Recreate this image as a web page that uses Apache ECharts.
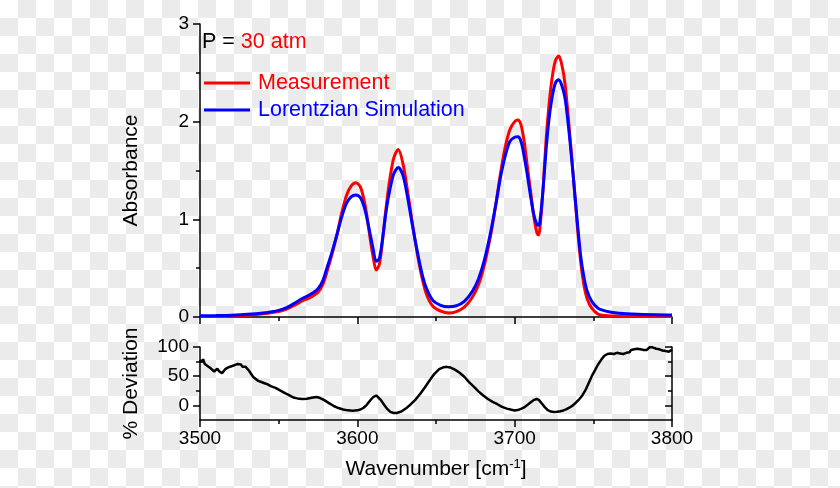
<!DOCTYPE html>
<html>
<head>
<meta charset="utf-8">
<script src="https://cdn.jsdelivr.net/npm/echarts@6/dist/echarts.min.js"></script>
<style>
html,body{margin:0;padding:0;}
body{width:840px;height:488px;background:repeating-conic-gradient(#ebebeb 0 25%, #ffffff 0 50%) 0 0/36px 36px;}
#c{width:840px;height:488px;}
</style>
</head>
<body>
<div id="c"></div>
<script>
const wavenumber = [3500,3510,3520,3530,3540,3550,3555,3560,3565,3570,
  3575,3578,3581,3584,3587,3590,3593,3596,3599,3602,
  3605,3608,3610,3612,3614,3616,3618,3620,3623,3626,
  3629,3632,3635,3638,3641,3644,3648,3653,3658,3663,
  3668,3673,3677,3681,3685,3688,3691,3694,3697,3700,
  3702,3704,3706,3708,3710,3712,3714,3715,3716,3718,
  3720,3722,3724,3726,3728,3730,3732,3734,3736,3738,
  3740,3742,3744,3746,3749,3753,3758,3765,3775,3790,3800];
const measurement = [0.005,0.007,0.01,0.018,0.032,0.055,0.08,0.12,0.165,0.2,
  0.255,0.33,0.48,0.65,0.84,1.06,1.24,1.34,1.375,1.33,
  1.14,0.82,0.62,0.48,0.54,0.78,1.08,1.34,1.62,1.715,
  1.57,1.28,0.96,0.66,0.41,0.23,0.11,0.06,0.04,0.055,
  0.1,0.2,0.33,0.55,0.86,1.15,1.47,1.74,1.92,2.0,
  2.017,1.97,1.8,1.55,1.3,1.05,0.87,0.84,0.9,1.3,
  1.82,2.2,2.47,2.63,2.672,2.58,2.39,2.06,1.68,1.3,
  0.9,0.56,0.33,0.19,0.09,0.03,0.015,0.009,0.006,0.005,0.004];
const simulation = [0.012,0.015,0.019,0.027,0.042,0.068,0.095,0.14,0.19,0.23,
  0.29,0.37,0.52,0.67,0.84,1.02,1.16,1.23,1.25,1.22,
  1.09,0.86,0.7,0.57,0.6,0.8,1.05,1.25,1.46,1.53,
  1.45,1.22,0.94,0.68,0.45,0.29,0.17,0.12,0.105,0.115,
  0.16,0.26,0.39,0.6,0.89,1.15,1.43,1.65,1.8,1.84,
  1.845,1.8,1.65,1.46,1.25,1.06,0.95,0.94,0.97,1.3,
  1.72,2.05,2.27,2.4,2.43,2.37,2.24,1.98,1.66,1.3,
  0.94,0.62,0.41,0.27,0.16,0.09,0.06,0.04,0.03,0.022,0.02];
// [wavenumber, % deviation]
const deviation = [
  [3500,78],[3501,74],[3502,79],[3503,71],[3504,73],[3505,67],[3506,69],[3507,63],[3508,66],[3509,58],
  [3510,61],[3511,63],[3512,59],[3513,61],[3514,55],[3515,58],[3516,62],[3517,60],[3518,65],[3519,63],
  [3520,67],[3521,64],[3522,69],[3523,67],[3524,71],[3525,68],[3526,70],[3527,66],[3528,69],[3529,66],
  [3530,63],[3531,60],[3532,56],[3533,52],[3534,48],[3535,45],
  [3537,42],[3539,40],[3541,38],[3543,36],[3545,33],[3548,30],[3550,27],[3552,24],[3554,21],[3556,18.5],
  [3558,15.5],[3560,13],[3562,12],[3565,11],[3568,11.5],[3571,13],[3574,14.5],[3576,13],[3579,9],[3582,4],
  [3585,-1],[3588,-4.5],[3591,-7],[3594,-8.5],[3597,-9],[3600,-8.5],[3602,-7],[3604,-4],[3606,1],[3608,8],
  [3610,14],[3612,17],[3613,16],[3615,9],[3617,1],[3619,-6],[3621,-11],[3623,-13],[3625,-13],[3628,-10.5],
  [3631,-5],[3634,2],[3637,10],[3640,20],[3643,31],[3646,43],[3649,54],[3652,62],[3655,65.5],[3657,66],
  [3659,65],[3661,62.7],[3663,59.5],[3665,56],[3668,49],[3671,40],[3674,32],[3677,24],[3680,17],[3683,11],
  [3686,6],[3689,2],[3692,-2.5],[3695,-5.5],[3698,-7.5],[3700,-8.6],[3702,-8],[3704,-6],[3706,-3.5],[3708,0.5],
  [3710,5],[3712,9],[3714,11],[3715.5,9],[3717,4],[3719,-2.5],[3721,-8],[3723,-10.5],[3725,-11.4],[3727,-11],
  [3729,-10],[3731,-8.6],[3733,-6.5],[3735,-3.5],[3737,0],[3739,5],[3741,10.5],[3743,17],[3745,26],[3747,38],
  [3749,50],[3751,60],[3753,70],[3755,78],[3757,85],
  [3758,86],[3759,88],[3760,87],[3761,89],[3762,90],[3763,88],[3764,91],[3765,90],[3766,92],[3767,89],
  [3768,91],[3769,88],[3770,86],[3771,90],[3772,93],[3773,91],[3774,95],[3775,94],[3776,96],[3777,93],
  [3778,97],[3779,95],[3780,96],[3781,93],[3782,95],[3783,97],[3784,95],[3785,98],[3786,100],[3787,97],
  [3788,99],[3789,96],[3790,97],[3791,94],[3792,96],[3793,93],[3794,94],[3795,91],[3796,93],[3797,90],
  [3798,92],[3799,91],[3800,95]
];
const absTicks = [0,1,2,3];
const devTickLabels = [0,50,100];
const devMinorTicks = [25,75];

const FONT = 'Liberation Sans, Arial, sans-serif';
const chart = echarts.init(document.getElementById('c'), null, {renderer:'canvas'});

function xAx(grid, showLabels, name) {
  return {
    type:'value', gridIndex:grid, min:3500, max:3800, interval:100,
    axisLine:{show:true, onZero:false, lineStyle:{color:'#000',width:1.5}},
    axisTick:{show:true, inside:false, length:7, lineStyle:{color:'#000',width:1.5}},
    minorTick:{show:true, splitNumber:2, length:4, lineStyle:{color:'#000',width:1.5}},
    splitLine:{show:false}, minorSplitLine:{show:false},
    axisLabel:{show:showLabels, color:'#000', fontSize:19, fontFamily:FONT, margin:9,
      formatter:(v)=>String(v)},
    name: name || '', nameLocation:'middle', nameGap:38,
    nameTextStyle:{color:'#000', fontSize:21, fontFamily:FONT,
      rich:{s:{fontSize:13, fontFamily:FONT, color:'#000', verticalAlign:'top', padding:[0,0,10,0]}}}
  };
}

const option = {
  backgroundColor:'transparent',
  animation:false,
  grid:[
    {left:200, top:24, width:472, height:293, containLabel:false},
    {left:200, top:347, width:472, height:73, containLabel:false}
  ],
  legend:{
    orient:'vertical', left:199, top:67, itemWidth:46, itemHeight:3, itemGap:5,
    icon:'rect',
    textStyle:{fontSize:21.5, fontFamily:FONT, lineHeight:21, padding:[0,0,0,3]},
    data:[
      {name:'Measurement', textStyle:{color:'#ff0000'}},
      {name:'Lorentzian Simulation', textStyle:{color:'#0000ff'}}
    ]
  },
  graphic:[{
    type:'text', left:202, top:31,
    style:{text:'{k|P = }{v|30 atm}', rich:{
      k:{fill:'#000', fontSize:21.5, fontFamily:FONT},
      v:{fill:'#ff0000', fontSize:21.5, fontFamily:FONT}}}
  }],
  xAxis:[
    xAx(0,false),
    xAx(1,true,'Wavenumber [cm{s|-1}]')
  ],
  yAxis:[
    {type:'value', gridIndex:0, min:0, max:3, interval:1,
     axisLine:{show:true, lineStyle:{color:'#000',width:1.5}},
     axisTick:{show:true, length:7, lineStyle:{color:'#000',width:1.5}},
     minorTick:{show:true, splitNumber:2, length:4, lineStyle:{color:'#000',width:1.5}},
     splitLine:{show:false},
     axisLabel:{color:'#000', fontSize:19, fontFamily:FONT, margin:11,
       customValues:absTicks},
     name:'Absorbance', nameLocation:'middle', nameGap:58, nameRotate:90,
     nameTextStyle:{color:'#000', fontSize:21, fontFamily:FONT}},
    {type:'value', gridIndex:1, min:-25, max:100,
     axisLine:{show:true, lineStyle:{color:'#000',width:1.5}},
     axisTick:{show:true, length:7, customValues:devTickLabels, lineStyle:{color:'#000',width:1.5}},
     splitLine:{show:false},
     axisLabel:{color:'#000', fontSize:19, fontFamily:FONT, margin:11, customValues:devTickLabels},
     name:'% Deviation', nameLocation:'middle', nameGap:58, nameRotate:90,
     nameTextStyle:{color:'#000', fontSize:21, fontFamily:FONT}},
    {type:'value', gridIndex:1, min:-25, max:100, position:'left',
     axisLine:{show:false},
     axisTick:{show:true, length:4, customValues:devMinorTicks, lineStyle:{color:'#000',width:1.5}},
     splitLine:{show:false}, axisLabel:{show:false}},
    {type:'value', gridIndex:1, min:-25, max:100, position:'right',
     axisLine:{show:true, lineStyle:{color:'#000',width:1.5}},
     axisTick:{show:true, inside:true, length:7, customValues:devTickLabels, lineStyle:{color:'#000',width:1.5}},
     splitLine:{show:false}, axisLabel:{show:false}},
    {type:'value', gridIndex:1, min:-25, max:100, position:'right',
     axisLine:{show:false},
     axisTick:{show:true, inside:true, length:4, customValues:devMinorTicks, lineStyle:{color:'#000',width:1.5}},
     splitLine:{show:false}, axisLabel:{show:false}}
  ],
  series:[
    {name:'Measurement', type:'line', xAxisIndex:0, yAxisIndex:0,
     data:wavenumber.map((w,i)=>[w,measurement[i]]),
     showSymbol:false, smooth:0.3, color:'#ff0000',
     lineStyle:{color:'#ff0000', width:3}, itemStyle:{color:'#ff0000'}},
    {name:'Lorentzian Simulation', type:'line', xAxisIndex:0, yAxisIndex:0,
     data:wavenumber.map((w,i)=>[w,simulation[i]]),
     showSymbol:false, smooth:0.3, color:'#0000ff',
     lineStyle:{color:'#0000ff', width:3}, itemStyle:{color:'#0000ff'}},
    {name:'Deviation', type:'line', xAxisIndex:1, yAxisIndex:1,
     data:deviation, showSymbol:false, smooth:false,
     lineStyle:{color:'#000', width:2.5}, itemStyle:{color:'#000'}}
  ]
};
chart.setOption(option);
</script>
</body>
</html>
